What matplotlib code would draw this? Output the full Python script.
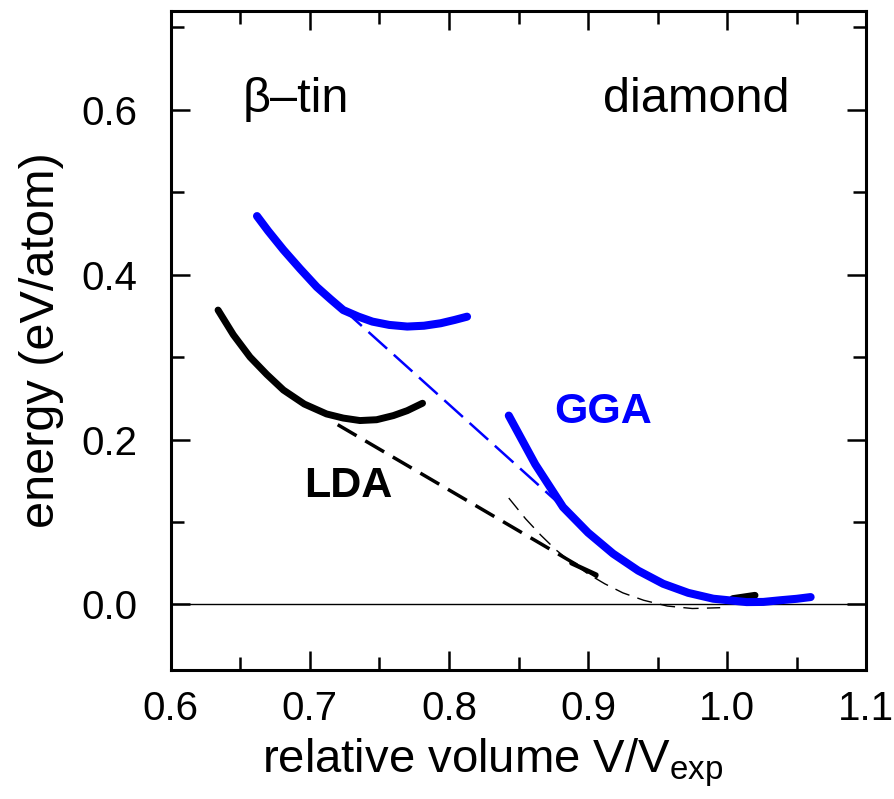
import matplotlib
matplotlib.use('Agg')
import matplotlib.pyplot as plt
from matplotlib.ticker import MultipleLocator

plt.rcParams['font.family'] = ['Liberation Sans', 'DejaVu Sans']
plt.rcParams['mathtext.fontset'] = 'custom'
plt.rcParams['mathtext.rm'] = 'Liberation Sans'
plt.rcParams['mathtext.it'] = 'Liberation Sans'

# GGA, beta-tin branch
gga_btin_v = [0.662, 0.670, 0.681, 0.693, 0.705, 0.715, 0.724, 0.735, 0.745,
              0.757, 0.770, 0.782, 0.794, 0.804, 0.813]
gga_btin_e = [0.471, 0.453, 0.430, 0.407, 0.385, 0.370, 0.357, 0.349, 0.343,
              0.339, 0.337, 0.338, 0.341, 0.345, 0.349]

# LDA, beta-tin branch
lda_btin_v = [0.634, 0.645, 0.657, 0.669, 0.681, 0.696, 0.712, 0.724, 0.736,
              0.748, 0.760, 0.770, 0.781]
lda_btin_e = [0.357, 0.327, 0.300, 0.279, 0.260, 0.243, 0.231, 0.226, 0.223,
              0.224, 0.229, 0.235, 0.244]

# GGA, diamond branch
gga_dia_v = [0.843, 0.862, 0.882, 0.900, 0.918, 0.936, 0.954, 0.972, 0.990,
             1.014, 1.026, 1.038, 1.050, 1.060]
gga_dia_e = [0.229, 0.170, 0.118, 0.087, 0.0615, 0.041, 0.025, 0.014, 0.0069,
             0.0028, 0.003, 0.005, 0.0068, 0.0089]

# LDA, diamond branch (thin dashed extension)
lda_dia_v = [0.843, 0.855, 0.866, 0.877, 0.888, 0.900, 0.912, 0.925, 0.940,
             0.957, 0.975, 0.995]
lda_dia_e = [0.129, 0.104, 0.084, 0.066, 0.051, 0.037, 0.025, 0.014, 0.005,
             -0.002, -0.005, -0.004]
lda_dia_thick_v = [1.004, 1.020]
lda_dia_thick_e = [0.007, 0.011]
lda_dia_mid_v = [0.888, 0.906]
lda_dia_mid_e = [0.050, 0.036]

# common tangents
gga_tan_v = [0.724, 0.880]
gga_tan_e = [0.358, 0.121]
lda_tan_v = [0.720, 0.907]
lda_tan_e = [0.218, 0.033]

fig = plt.figure(figsize=(8.94, 7.99), dpi=100)
ax = fig.add_axes([0.191, 0.161, 0.778, 0.8255])

ax.axhline(0.0, color='black', lw=1.0, zorder=1)

ax.plot(lda_dia_v, lda_dia_e, color='black', lw=1.0, dashes=(11, 6), zorder=2)
ax.plot(lda_tan_v, lda_tan_e, color='black', lw=2.5, dashes=(6.3, 2.9), zorder=2)
ax.plot(gga_tan_v, gga_tan_e, color='blue', lw=1.8, dashes=(10, 3.6), zorder=2)
ax.plot(lda_dia_mid_v, lda_dia_mid_e, color='black', lw=3.2,
        solid_capstyle='round', zorder=2)
ax.plot(lda_dia_thick_v, lda_dia_thick_e, color='black', lw=5,
        solid_capstyle='round', zorder=2)

ax.plot(lda_btin_v, lda_btin_e, color='black', lw=5, solid_capstyle='round', zorder=3)
ax.plot(gga_btin_v, gga_btin_e, color='blue', lw=5.8, solid_capstyle='round', zorder=3)
ax.plot(gga_dia_v, gga_dia_e, color='blue', lw=5.8, solid_capstyle='round', zorder=3)

ax.text(0.652, 0.597, 'β–tin', fontsize=35, va='baseline', ha='left')
ax.text(1.045, 0.597, 'diamond', fontsize=35, va='baseline', ha='right')
ax.text(0.876, 0.2197, 'GGA', fontsize=31, fontweight='bold', color='blue',
        va='baseline', ha='left')
ax.text(0.696, 0.130, 'LDA', fontsize=31, fontweight='bold', color='black',
        va='baseline', ha='left')

ax.set_xlim(0.6, 1.1)
ax.set_ylim(-0.08, 0.72)
ax.xaxis.set_major_locator(MultipleLocator(0.1))
ax.xaxis.set_minor_locator(MultipleLocator(0.05))
ax.yaxis.set_major_locator(MultipleLocator(0.2))
ax.yaxis.set_minor_locator(MultipleLocator(0.1))
ax.xaxis.set_major_formatter(plt.FormatStrFormatter('%.1f'))
ax.yaxis.set_major_formatter(plt.FormatStrFormatter('%.1f'))
ax.tick_params(which='both', direction='in', top=True, right=True, width=1.8,
               labelsize=29)
ax.tick_params(axis='x', which='both', pad=14)
ax.tick_params(axis='y', which='both', pad=24)
ax.tick_params(which='major', length=13.5)
ax.tick_params(which='minor', length=9.5)
for sp in ax.spines.values():
    sp.set_linewidth(2.2)

ax.set_xlabel('relative volume V/V$_{\\mathrm{exp}}$', fontsize=34)
ax.set_ylabel('energy (eV/atom)', fontsize=35)
ax.xaxis.set_label_coords(0.463, -0.100)
ax.yaxis.set_label_coords(-0.153, 0.5)

plt.savefig('out.png', dpi=100)
